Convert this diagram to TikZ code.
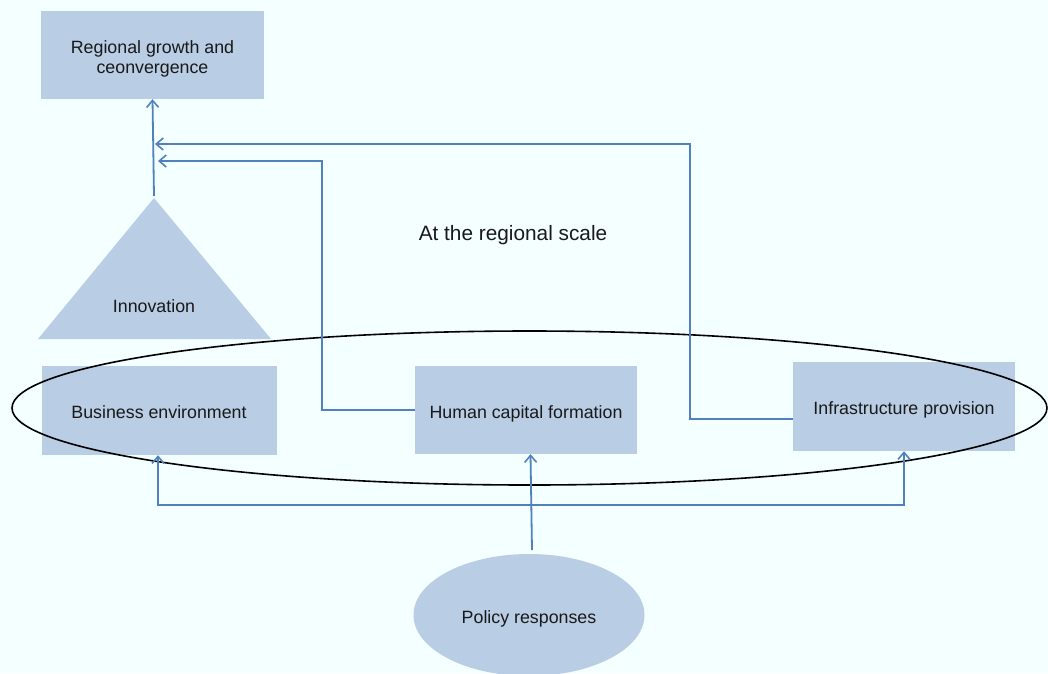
\documentclass[tikz,border=0pt]{standalone}
\usepackage{fontspec}
\setmainfont{Liberation Sans}
\usetikzlibrary{arrows.meta,shapes.geometric}
\definecolor{paper}{RGB}{244,255,255}
\definecolor{boxfill}{RGB}{185,205,228}
\definecolor{linkblue}{RGB}{79,129,189}
\begin{document}
\begin{tikzpicture}[x=1pt,y=-1pt,
  every node/.style={font=\fontsize{17.8}{20}\selectfont, text=black!90},
  blockbox/.style={rectangle, fill=boxfill, inner sep=0pt, align=center,
    text height=16pt, text depth=0pt},
  conn/.style={draw=linkblue, line width=1.8pt,
    -{Straight Barb[length=7pt,width=12pt,line width=1.6pt]}},
  connboth/.style={draw=linkblue, line width=1.8pt,
    {Straight Barb[length=7pt,width=12pt,line width=1.6pt]}-{Straight Barb[length=7pt,width=12pt,line width=1.6pt]}}
]
% canvas
\fill[paper] (0,0) rectangle (1048,673);
\useasboundingbox (0,0) rectangle (1048,673);

% innovation triangle
\fill[boxfill] (38,339) -- (271,339) -- (154,198) -- cycle;
\coordinate (apex) at (154,196);
\node[text height=14pt, text depth=0pt] (innov) at (154,305) {Innovation};

% boxes
\node[rectangle, fill=boxfill, minimum width=223pt, minimum height=88pt] (growth) at (152.5,55) {};
\node[align=center] (growthtxt) at (152.5,59) {Regional growth and\\ceonvergence};
\node[blockbox, minimum width=235pt, minimum height=89pt] (be) at (159,410.5)
  {Business environment};
\node[blockbox, minimum width=222pt, minimum height=88pt] (hc) at (526,410)
  {Human capital formation};
\node[blockbox, minimum width=222pt, minimum height=89pt] (infra) at (904,406.5)
  {Infrastructure provision};
\node[ellipse, fill=boxfill, minimum width=231pt, minimum height=122pt, inner sep=0pt,
  text height=16pt, text depth=0pt] (policy) at (529,615)
  {Policy responses};

\node[font=\fontsize{20.8}{24}\selectfont] (scale) at (513,235) {At the regional scale};

% regional scale boundary
\node[ellipse, draw=black, line width=1.6pt, minimum width=1035pt, minimum height=154pt, inner sep=0pt] (region) at (529.5,408) {};

% connectors
\coordinate (join1) at (155,144);
\coordinate (join2) at (158,161);
\coordinate (ptop) at (532,550);

\draw[conn] (apex) -- (growth.south);
\draw[conn] ([yshift=-12.5pt]infra.west) -- ++(-103,0) |- (join1);
\draw[conn] (hc.west) -- ++(-93,0) |- (join2);
\draw[conn] (ptop) -- ([xshift=4.5pt]hc.south);
\draw[connboth] ([xshift=-1pt]be.south) -- ++(0,50) -| (infra.south);
\end{tikzpicture}
\end{document}
